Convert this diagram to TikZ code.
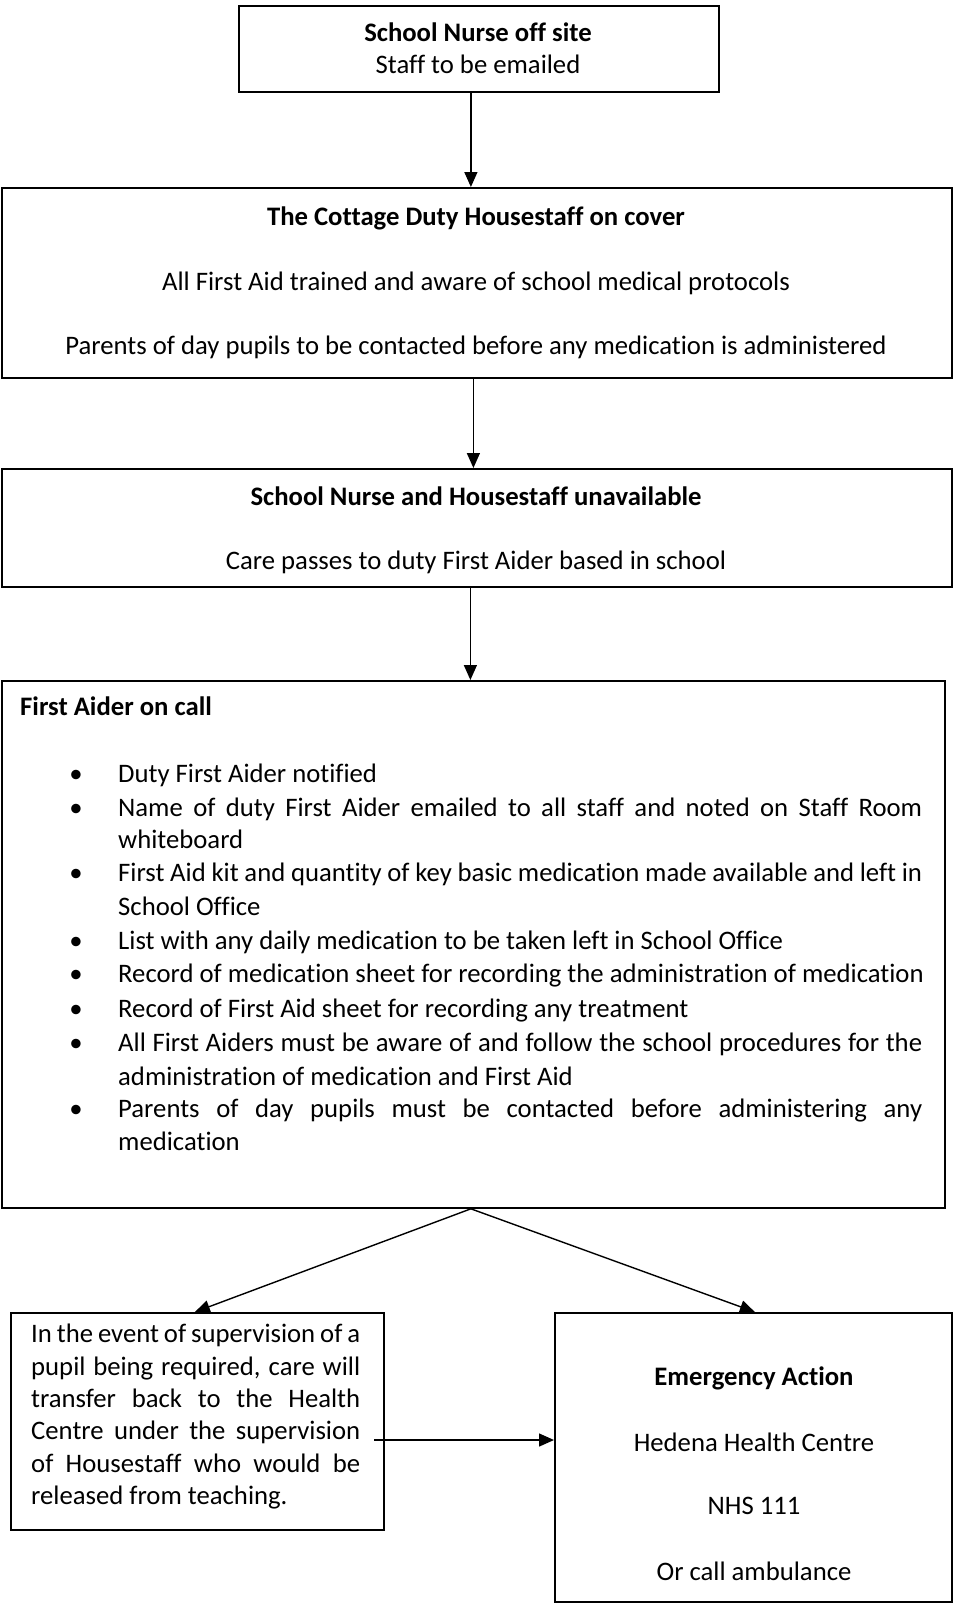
\documentclass[tikz,border=0pt]{standalone}
\usepackage{fontspec}
\setmainfont{Carlito}[Ligatures={NoCommon}]
\usetikzlibrary{arrows.meta}
\newcommand{\jl}[2]{\makebox[#1pt][s]{#2}}
\begin{document}
\begin{tikzpicture}[x=1pt,y=-1pt,
  box/.style={draw, line width=1.8pt, anchor=north west, inner sep=0pt},
  txt/.style={inner sep=0pt, anchor=base, font=\fontsize{26.7}{33.7}\selectfont},
  bold/.style={txt, font=\fontsize{26.7}{33.7}\selectfont\bfseries},
  ltxt/.style={txt, anchor=base west},
  bul/.style={txt},
  arr/.style={line width=1.4pt, -{Triangle[length=15pt,width=13pt]}}]
\useasboundingbox (0,0) rectangle (953,1604);
% boxes
\node[box, minimum width=480pt, minimum height=86pt] (b1) at (238,5) {};
\node[box, minimum width=950pt, minimum height=190pt] (b2) at (1,187) {};
\node[box, minimum width=950pt, minimum height=118pt] (b3) at (1,468) {};
\node[box, minimum width=943pt, minimum height=527pt] (b4) at (1,680) {};
\node[box, minimum width=373pt, minimum height=217pt] (b5) at (10,1312) {};
\node[box, minimum width=397pt, minimum height=289pt] (b6) at (554,1312) {};
% box 1
\node[bold] (t1a) at (478,41) {School Nurse off site};
\node[txt] (t1b) at (478,73) {Staff to be emailed};
% box 2
\node[bold] (t2a) at (476,225) {The Cottage Duty Housestaff on cover};
\node[txt] (t2b) at (476,290) {All First Aid trained and aware of school medical protocols};
\node[txt] (t2c) at (476,354) {Parents of day pupils to be contacted before any medication is administered};
% box 3
\node[bold] (t3a) at (476,505) {School Nurse and Housestaff unavailable};
\node[txt] (t3b) at (476,569) {Care passes to duty First Aider based in school};
% box 4
\node[bold, anchor=base west] (t4) at (20,715) {First Aider on call};
\foreach \y/\n in {782/1,816/2,881/3,949/4,982/5,1017/6,1051/7,1117/8}{
  \node[bul] (bu\n) at (76,\y) {\textbullet};
}
\node[ltxt] (l1) at (118,782) {Duty First Aider notified};
\node[ltxt] (l2) at (118,816) {\jl{804}{Name of duty First Aider emailed to all staff and noted on Staff Room}};
\node[ltxt] (l3) at (118,848) {whiteboard};
\node[ltxt] (l4) at (118,881) {\jl{804}{First Aid kit and quantity of key basic medication made available and left in}};
\node[ltxt] (l5) at (118,915) {School Office};
\node[ltxt] (l6) at (118,949) {List with any daily medication to be taken left in School Office};
\node[ltxt] (l7) at (118,982) {Record of medication sheet for recording the administration of medication};
\node[ltxt] (l8) at (118,1017) {Record of First Aid sheet for recording any treatment};
\node[ltxt] (l9) at (118,1051) {\jl{804}{All First Aiders must be aware of and follow the school procedures for the}};
\node[ltxt] (l10) at (118,1085) {administration of medication and First Aid};
\node[ltxt] (l11) at (118,1117) {\jl{804}{Parents of day pupils must be contacted before administering any}};
\node[ltxt] (l12) at (118,1150) {medication};
% box 5
\node[ltxt] (m1) at (31,1342) {\jl{329}{In the event of supervision of a}};
\node[ltxt] (m2) at (31,1375) {\jl{329}{pupil being required, care will}};
\node[ltxt] (m3) at (31,1407) {\jl{329}{transfer back to the Health}};
\node[ltxt] (m4) at (31,1439) {\jl{329}{Centre under the supervision}};
\node[ltxt] (m5) at (31,1472) {\jl{329}{of Housestaff who would be}};
\node[ltxt] (m6) at (31,1504) {released from teaching.};
% box 6
\node[bold] (e1) at (754,1385) {Emergency Action};
\node[txt] (e2) at (754,1451) {Hedena Health Centre};
\node[txt] (e3) at (754,1514) {NHS 111};
\node[txt] (e4) at (754,1580) {Or call ambulance};
% connectors
\draw[arr] ([xshift=-8pt]b1.south) -- ([xshift=-8pt]b1.south |- b2.north);
\draw[arr] ([xshift=-3.5pt]b2.south) -- ([xshift=-3.5pt]b2.south |- b3.north);
\draw[arr] ([xshift=-6.5pt]b3.south) -- ([xshift=-6.5pt]b3.south |- b4.north);
\draw[arr] ([xshift=-2.5pt]b4.south) -- ([xshift=-2.5pt]b5.north);
\draw[arr] ([xshift=-2.5pt]b4.south) -- ([xshift=1.5pt]b6.north);
\coordinate (h) at (374,1440);
\draw[arr] (h) -- (h -| b6.west);
\end{tikzpicture}
\end{document}
